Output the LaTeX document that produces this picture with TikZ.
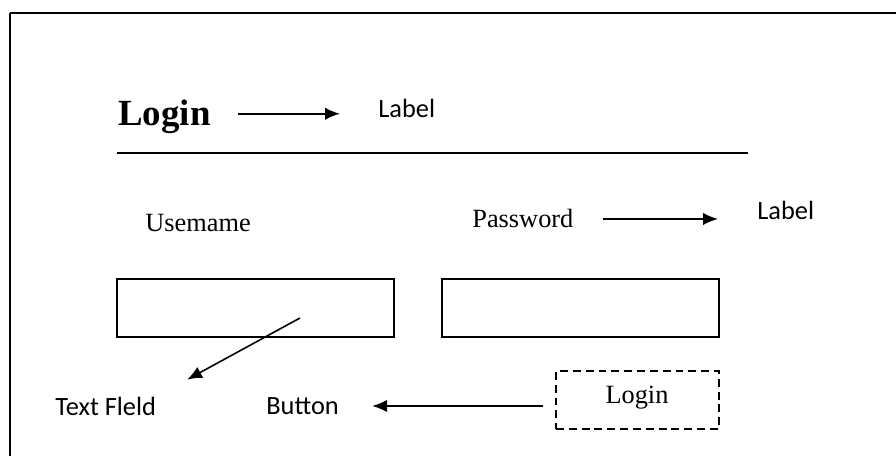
\documentclass[tikz,border=0pt]{standalone}
\usepackage{fontspec}
\setmainfont{Liberation Serif}
\newfontfamily\lblfont{Carlito}
\usepackage{tikz}
\usetikzlibrary{calc,shapes,arrows.meta}

\begin{document}
\begin{tikzpicture}[
    txt/.style={inner sep=0pt,font=\fontsize{15}{18}\selectfont},
    note/.style={inner sep=0pt,font=\lblfont\fontsize{15}{18}\selectfont},
    field/.style={draw,line width=1pt,inner sep=0pt,minimum width=5.54cm,minimum height=1.16cm},
    ptr/.style={-{Latex[length=8.5pt,width=7pt]},line width=0.9pt}]
        \useasboundingbox (0,0) rectangle (17.92,9.12);
        % window frame
        \draw[line width=1.2pt] (0.2,0) -- (0.2,8.86);
        \draw[line width=1.2pt] (0.2,8.86) -- (17.92,8.86);
        % heading
        \node[inner sep=0pt,anchor=base west,font=\bfseries\fontsize{21}{25}\selectfont] (title) at (2.36,6.6) {Login};
        \node[note,anchor=base west] (lblA) at (7.56,6.76) {Label};
        \draw[ptr,shorten <=0.54cm,shorten >=0.76cm] ([yshift=2pt]title.east) -- ([yshift=2pt]title.east -| lblA.west);
        \draw[line width=1.1pt] (2.34,6.06) -- (14.96,6.06);
        % user / password
        \node[txt,anchor=base west] (user) at (2.9,4.48) {Usemame};
        \node[txt,anchor=base west] (pass) at (9.44,4.56) {Password};
        \node[note,anchor=base west] (lblB) at (15.14,4.72) {Label};
        \draw[ptr,shorten <=0.58cm,shorten >=0.78cm] (pass.east) -- (pass.east -| lblB.west);
        \node[field] (fieldA) at (5.11,2.96) {};
        \node[field] (fieldB) at (11.61,2.96) {};
        % button
        \node[draw,dashed,dash pattern=on 4.5pt off 2.8pt,line width=1.1pt,inner sep=0pt,
            minimum width=3.26cm,minimum height=1.16cm] (btn) at (12.75,1.12) {};
        \node[txt,anchor=base] (btntxt) at (12.74,1.04) {Login};
        \node[note,anchor=west] (tf) at (1.1,1.0) {Text Fleld};
        \node[note,anchor=west] (bt) at (5.32,1.0) {Button};
        \draw[ptr,shorten <=0.24cm,shorten >=0.66cm] (btn.west |- bt.east) -- (bt.east);
        \draw[ptr,shorten >=0.7cm] ([shift={(0.89,-0.2)}]fieldA.center) -- (tf.north east);
    \end{tikzpicture}
\end{document}
